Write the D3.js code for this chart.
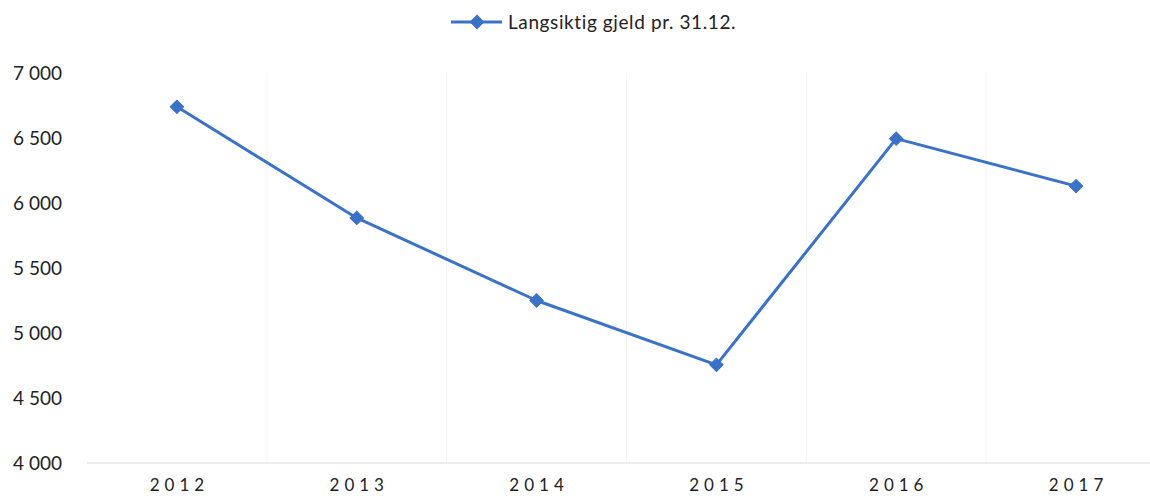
<!DOCTYPE html>
<html><head><meta charset="utf-8">
<script src="https://cdn.jsdelivr.net/npm/d3@7"></script>
<style>
html,body{margin:0;padding:0;background:#fff;}
svg{display:block;}
</style></head>
<body>
<svg id="chart" width="1150" height="500"></svg>
<script>
const categories = ["2012","2013","2014","2015","2016","2017"];
const values = [6740, 5885, 5250, 4755, 6495, 6130];
const yTicks = [4000,4500,5000,5500,6000,6500,7000];
const seriesName = "Langsiktig gjeld pr. 31.12.";

const svg = d3.select("#chart");
const color = "#3a72c8";
const x = d3.scaleBand().domain(categories).range([87, 1166]);
const y = d3.scaleLinear().domain([4000, 7000]).range([463, 73]);

// faint vertical separators
svg.append("g").selectAll("line").data(categories.slice(1)).join("line")
  .attr("x1", d => x(d)).attr("x2", d => x(d))
  .attr("y1", 73).attr("y2", 463)
  .attr("stroke", "#f5f5f5").attr("stroke-width", 1);

// baseline
svg.append("line").attr("x1", 87).attr("x2", 1150)
  .attr("y1", y(4000)).attr("y2", y(4000))
  .attr("stroke", "#e8e8e8").attr("stroke-width", 1.5);

// y axis
const fmt = d => d3.format(",")(d).replace(/,/g, " ");
const yAxis = d3.axisLeft(y).tickValues(yTicks).tickFormat(fmt).tickSize(0).tickPadding(0);
const yg = svg.append("g").attr("transform", "translate(62,0)").call(yAxis);
yg.select(".domain").remove();
yg.selectAll("text").attr("font-family", "Lato, sans-serif").attr("font-size", 19).attr("fill", "#222");

// x axis
const xAxis = d3.axisBottom(x).tickSize(0).tickPadding(0);
const xg = svg.append("g").attr("transform", "translate(0,479)").call(xAxis);
xg.select(".domain").remove();
xg.selectAll("text").attr("font-family", "Lato, sans-serif").attr("font-size", 17)
  .attr("fill", "#222").attr("letter-spacing", "5px").attr("dx", 2.5);

// line
const cx = d => x(d) + x.bandwidth() / 2;
const line = d3.line().x((d, i) => cx(categories[i])).y(d => y(d));
svg.append("path").datum(values).attr("d", line)
  .attr("fill", "none").attr("stroke", color).attr("stroke-width", 3).attr("stroke-linejoin", "round");

const diamond = d3.symbol().type(d3.symbolSquare).size(90);
svg.append("g").selectAll("path").data(values).join("path")
  .attr("d", diamond)
  .attr("transform", (d, i) => `translate(${cx(categories[i])},${y(d)}) rotate(45)`)
  .attr("fill", color).attr("stroke", color).attr("stroke-width", 1);

// legend
const lg = svg.append("g");
lg.append("line").attr("x1", 451).attr("x2", 502).attr("y1", 22).attr("y2", 22)
  .attr("stroke", color).attr("stroke-width", 3);
lg.append("path").attr("d", diamond).attr("transform", "translate(477,22) rotate(45)")
  .attr("fill", color).attr("stroke", color);
lg.append("text").attr("x", 508).attr("y", 29).text(seriesName)
  .attr("font-family", "Lato, sans-serif").attr("font-size", 19).attr("letter-spacing", "0.6px").attr("fill", "#222");
</script>
</body></html>
